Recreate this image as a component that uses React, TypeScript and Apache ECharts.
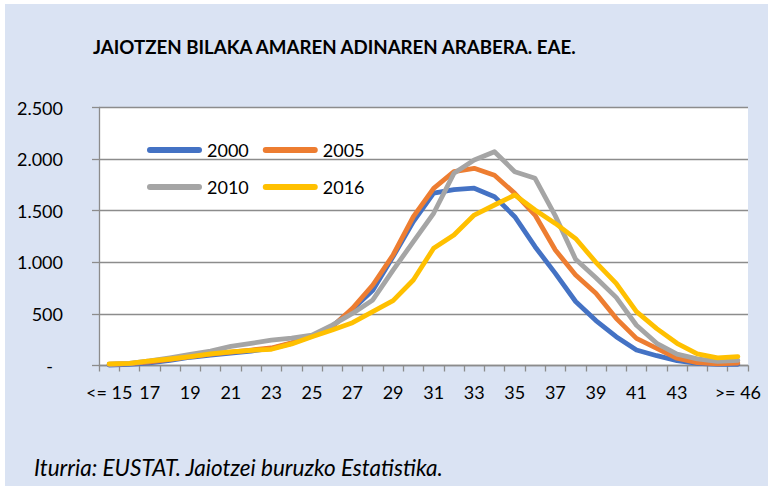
import React, { useEffect, useRef } from "react";
import * as echarts from "echarts";

const TITLE = "JAIOTZEN BILAKA AMAREN ADINAREN ARABERA. EAE.";
const SOURCE = "Iturria: EUSTAT. Jaiotzei buruzko Estatistika.";

const categories = [
  "<= 15", "16", "17", "18", "19", "20", "21", "22", "23", "24", "25", "26", "27", "28", "29", "30",
  "31", "32", "33", "34", "35", "36", "37", "38", "39", "40", "41", "42", "43", "44", "45", ">= 46",
];

const seriesNames = ["2000", "2005", "2010", "2016"];
const seriesColors = ["#4472C4", "#ED7D31", "#A5A5A5", "#FFC000"];

const s2000 = [5, 12, 25, 50, 80, 100, 120, 140, 165, 215, 285, 380, 545, 730, 1055, 1395, 1670, 1705, 1718, 1636, 1442, 1151, 893, 620, 435, 279, 150, 95, 47, 21, 11, 11];
const s2005 = [10, 18, 35, 60, 85, 110, 130, 150, 170, 220, 285, 376, 554, 780, 1071, 1442, 1717, 1878, 1911, 1843, 1668, 1458, 1119, 877, 700, 457, 263, 166, 70, 27, 15, 24];
const s2010 = [12, 20, 45, 75, 108, 140, 185, 215, 245, 265, 295, 392, 505, 635, 925, 1200, 1475, 1862, 1991, 2072, 1878, 1814, 1450, 1030, 850, 660, 390, 215, 110, 65, 40, 50];
const s2016 = [15, 21, 44, 63, 86, 112, 131, 147, 157, 209, 279, 344, 415, 522, 628, 829, 1136, 1265, 1458, 1555, 1652, 1507, 1377, 1230, 1000, 796, 522, 357, 215, 113, 73, 86];

const seriesValues = [s2000, s2005, s2010, s2016];

const FONT = "Lato, 'Open Sans', sans-serif";
const CAPSULE = "path://M3,0 L52,0 A3,3 0 0 1 52,6 L3,6 A3,3 0 0 1 3,0 Z";

function fmt(v: number): string {
  if (v === 0) return "{z|-}";
  return String(v).replace(/\B(?=(\d{3})+(?!\d))/g, ".");
}

export default function App() {
  const ref = useRef<HTMLDivElement>(null);

  useEffect(() => {
    document.body.style.margin = "0";
    if (!ref.current) return;
    const chart = echarts.init(ref.current, undefined, { renderer: "svg" });

    const legendBase = {
      left: 142,
      itemWidth: 55,
      itemHeight: 6,
      itemGap: 14,
      icon: CAPSULE,
      selectedMode: false,
      padding: 0,
      textStyle: { fontFamily: FONT, fontSize: 18, color: "#000", lineHeight: 18 },
    };

    const option: any = {
      animation: false,
      backgroundColor: "#dae3f3",
      title: {
        text: TITLE,
        left: 88,
        top: 33,
        padding: 0,
        textStyle: { fontFamily: FONT, fontWeight: "bold", fontSize: 18.7, color: "#000" },
      },
      legend: [
        { ...legendBase, top: 137, data: [seriesNames[0], seriesNames[1]] },
        { ...legendBase, top: 174, data: [seriesNames[2], seriesNames[3]] },
      ],
      grid: {
        left: 94,
        right: 20,
        top: 103.5,
        bottom: 120.5,
        show: true,
        backgroundColor: "#ffffff",
        borderWidth: 0,
      },
      xAxis: {
        type: "category",
        data: categories,
        boundaryGap: true,
        axisLine: { show: true, lineStyle: { color: "#8c8c8c", width: 1.3 } },
        axisTick: { show: true, interval: 0, length: 6, lineStyle: { color: "#8c8c8c", width: 1.3 } },
        axisLabel: {
          interval: (index: number) => (index % 2 === 0 && index < 30) || index === 31,
          margin: 17,
          fontFamily: FONT,
          fontSize: 18,
          color: "#000",
        },
      },
      yAxis: {
        type: "value",
        min: 0,
        max: 2500,
        interval: 500,
        axisLine: { show: true, lineStyle: { color: "#8c8c8c", width: 1.3 } },
        axisTick: { show: true, length: 7, lineStyle: { color: "#8c8c8c", width: 1.3 } },
        splitLine: { show: true, lineStyle: { color: "#8c8c8c", width: 1.3 } },
        axisLabel: {
          margin: 36,
          fontFamily: FONT,
          fontSize: 18,
          color: "#000",
          formatter: fmt,
          rich: { z: { fontFamily: FONT, fontSize: 18, color: "#000", padding: [0, 10, 0, 0] } },
        },
      },
      graphic: [
        {
          type: "text",
          left: 29,
          top: 452,
          style: { text: SOURCE, font: `italic 22.5px ${FONT}`, fill: "#000" },
        },
      ],
      series: seriesNames.map((name, i) => ({
        name,
        type: "line",
        data: seriesValues[i],
        symbol: "none",
        showSymbol: false,
        color: seriesColors[i],
        lineStyle: { width: 4.8, color: seriesColors[i], cap: "round", join: "round" },
        z: 2 + i,
      })),
    };

    chart.setOption(option);
    return () => chart.dispose();
  }, []);

  return (
    <div style={{ position: "absolute", left: 0, top: 0, width: 768, height: 486, background: "#ffffff" }}>
      <div ref={ref} style={{ position: "absolute", left: 5, top: 4, width: 763, height: 482 }} />
    </div>
  );
}
